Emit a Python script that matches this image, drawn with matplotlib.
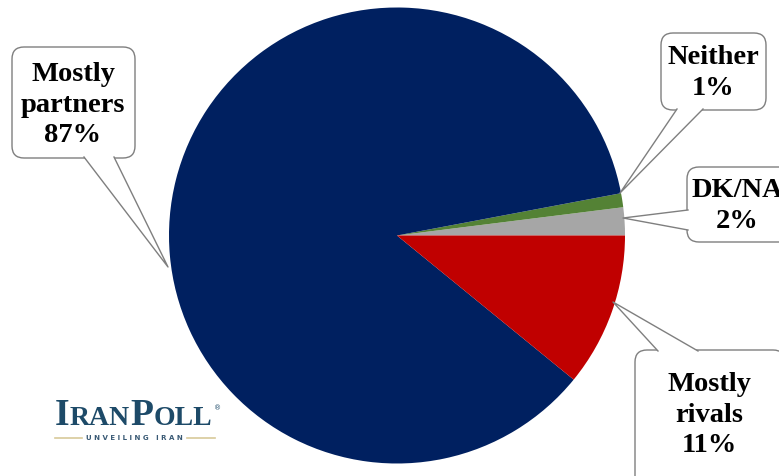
import matplotlib.pyplot as plt
from matplotlib.patches import FancyBboxPatch, Polygon

# survey answers
labels = ['DK/NA', 'Neither', 'Mostly partners', 'Mostly rivals']
shares = [2, 1, 87, 11]
colors = ['#a6a6a6', '#548235', '#002060', '#c00000']

W, H = 779, 476
fig = plt.figure(figsize=(W / 100, H / 100), dpi=100)
ax = fig.add_axes([0, 0, 1, 1])

cx, cy, r = 397, H - 235.5, 228
ax.pie(shares, colors=colors, startangle=0, counterclock=True,
       center=(cx, cy), radius=r, wedgeprops=dict(linewidth=0))
ax.set_xlim(0, W)
ax.set_ylim(0, H)
ax.set_aspect('equal')
ax.axis('off')

font = dict(family='Liberation Serif', weight='bold', fontsize=20.5,
            ha='center', va='center', linespacing=1.3, color='black')
edge = '#7f7f7f'


def callout(box, base, tip, text, tx, ty):
    # box: (x0, y0, x1, y1) in pixels from top; base: two points on box edge
    x0, y0, x1, y1 = box
    ax.add_patch(FancyBboxPatch((x0, H - y1), x1 - x0, y1 - y0,
                                boxstyle='round,pad=0,rounding_size=12',
                                fc='white', ec=edge, lw=1.0, zorder=3))
    pts = [(base[0][0], H - base[0][1]), (tip[0], H - tip[1]),
           (base[1][0], H - base[1][1])]
    ax.add_patch(Polygon(pts, closed=True, fc='white', ec='none', zorder=4))
    ax.plot([pts[0][0], pts[1][0], pts[2][0]], [pts[0][1], pts[1][1], pts[2][1]],
            color=edge, lw=1.0, zorder=5)
    ax.text(tx, H - ty, text, zorder=6, **font)


callout((12, 47, 135, 158), [(84, 157), (114, 157)], (168, 267),
        'Mostly\npartners\n' + f'{shares[2]}%', 73, 105)
callout((661, 33, 766, 110), [(677, 109), (703, 109)], (620, 193),
        'Neither\n' + f'{shares[1]}%', 713, 73)
# this box runs off the right edge, so its label is clipped there
callout((687, 167, 800, 242), [(688, 210), (688, 230)], (623, 218),
        'DK/NA\n' + f'{shares[0]}%', 737, 206)
callout((635, 350, 785, 500), [(658, 351), (698, 351)], (613, 302),
        'Mostly\nrivals\n' + f'{shares[3]}%', 709, 415)

# logo
logo = '#1d4a68'
fig.canvas.draw()
rend = fig.canvas.get_renderer()
x = 55
for part, size in [('I', 27), ('RAN', 20), ('P', 27), ('OLL', 20)]:
    t = ax.text(x, H - 425, part, family='Liberation Serif', fontsize=size,
                color=logo, ha='left', va='baseline', weight='bold')
    bb = t.get_window_extent(rend)
    x += bb.width + 0.3
ax.text(x + 1, H - 408, '®', fontsize=5, color=logo, ha='left', va='center')
ax.text(134, H - 438, 'U N V E I L I N G   I R A N', family='DejaVu Sans',
        weight='bold', fontsize=5, color='#3a5a75', ha='center', va='center')
ax.plot([55, 82], [H - 438, H - 438], color='#d8c99a', lw=1.2)
ax.plot([187, 215], [H - 438, H - 438], color='#d8c99a', lw=1.2)

fig.savefig('out.png', dpi=100)
